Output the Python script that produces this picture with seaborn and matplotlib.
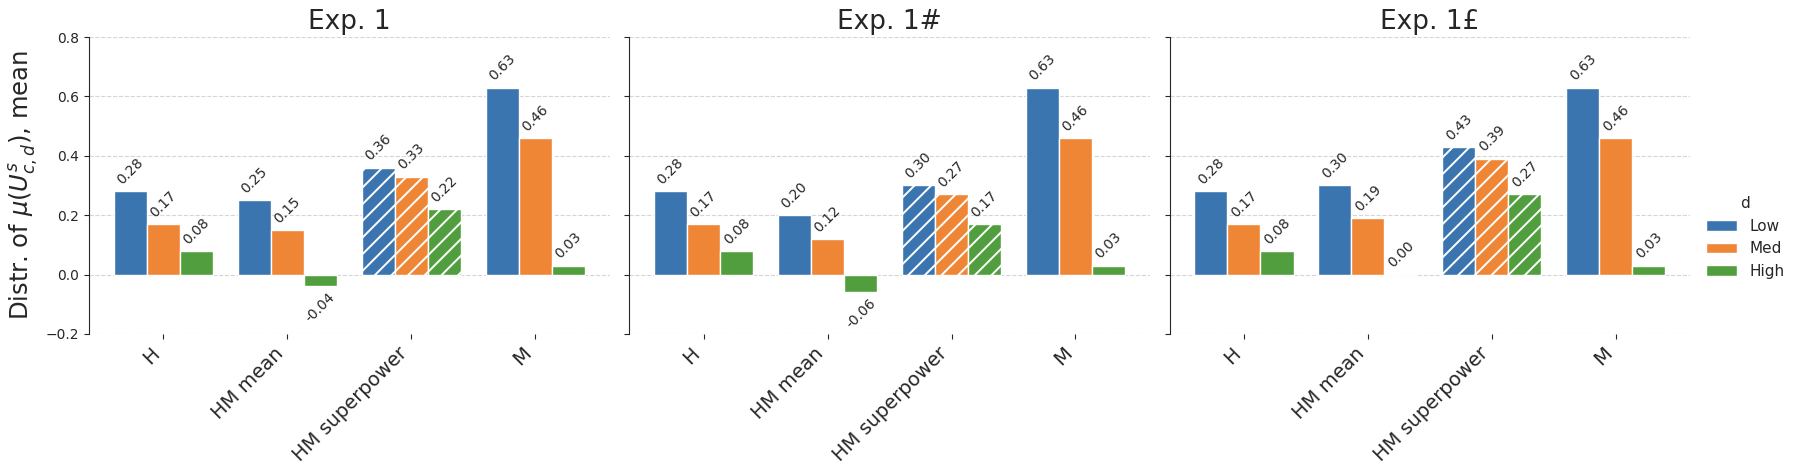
import pandas as pd
import seaborn as sns
import matplotlib
matplotlib.use('Agg')
import matplotlib.pyplot as plt

# chart data
experiments = ['Exp. 1', 'Exp. 1#', 'Exp. 1£']
conditions = ['H', 'HM mean', 'HM superpower', 'M']
levels = ['Low', 'Med', 'High']

exp1_low = [0.28, 0.25, 0.36, 0.63]
exp1_med = [0.17, 0.15, 0.33, 0.46]
exp1_high = [0.08, -0.04, 0.22, 0.03]

exp1h_low = [0.28, 0.20, 0.30, 0.63]
exp1h_med = [0.17, 0.12, 0.27, 0.46]
exp1h_high = [0.08, -0.06, 0.17, 0.03]

exp1p_low = [0.28, 0.30, 0.43, 0.63]
exp1p_med = [0.17, 0.19, 0.39, 0.46]
exp1p_high = [0.08, 0.00, 0.27, 0.03]

values = {
    'Exp. 1': [exp1_low, exp1_med, exp1_high],
    'Exp. 1#': [exp1h_low, exp1h_med, exp1h_high],
    'Exp. 1£': [exp1p_low, exp1p_med, exp1p_high],
}

colors = ['#3B75AF', '#EF8636', '#519E3E']

# long-form table
rows = []
for exp in experiments:
    for lev, series in zip(levels, values[exp]):
        for cond, v in zip(conditions, series):
            rows.append({'exp': exp, 'condition': cond, 'd': lev, 'value': v})
df = pd.DataFrame(rows)

sns.set_style('ticks')
plt.rcParams['hatch.linewidth'] = 1.4

fig, axes = plt.subplots(1, 3, figsize=(17.98, 4.75), dpi=100, sharey=True)
plt.subplots_adjust(left=0.0495, right=0.94, top=0.922, bottom=0.297, wspace=0.038)

for ax, exp in zip(axes, experiments):
    sub = df[df['exp'] == exp]
    sns.barplot(data=sub, x='condition', y='value', hue='d', order=conditions,
                hue_order=levels, palette=colors, saturation=1, edgecolor='white',
                linewidth=1, ax=ax, legend=False)
    for cont in ax.containers:
        cont.patches[2].set_hatch('//')
        ax.bar_label(cont, fmt='%.2f', rotation=45, padding=3, fontsize=10)
    ax.set_title(exp, fontsize=19)
    ax.set_xlabel('')
    ax.set_ylabel('')
    ax.set_ylim(-0.2, 0.8)
    ax.set_yticks([-0.2, 0.0, 0.2, 0.4, 0.6, 0.8])
    ax.set_xlim(-0.6, 3.6)
    ax.grid(axis='y', linestyle='--', color='#d5d5d5', linewidth=0.8)
    ax.set_axisbelow(True)
    ax.tick_params(axis='x', labelsize=14)
    plt.setp(ax.get_xticklabels(), rotation=45, ha='right')
    sns.despine(ax=ax, bottom=True)

axes[0].set_ylabel(r'Distr. of $\mu(U^{s}_{c,d})$, mean', fontsize=17.5)

handles = [plt.Rectangle((0, 0), 1, 1, facecolor=c, edgecolor='white') for c in colors]
fig.legend(handles, levels, title='d', loc='center right', frameon=False,
           fontsize=11, title_fontsize=11)

plt.savefig('out.png', dpi=100)
